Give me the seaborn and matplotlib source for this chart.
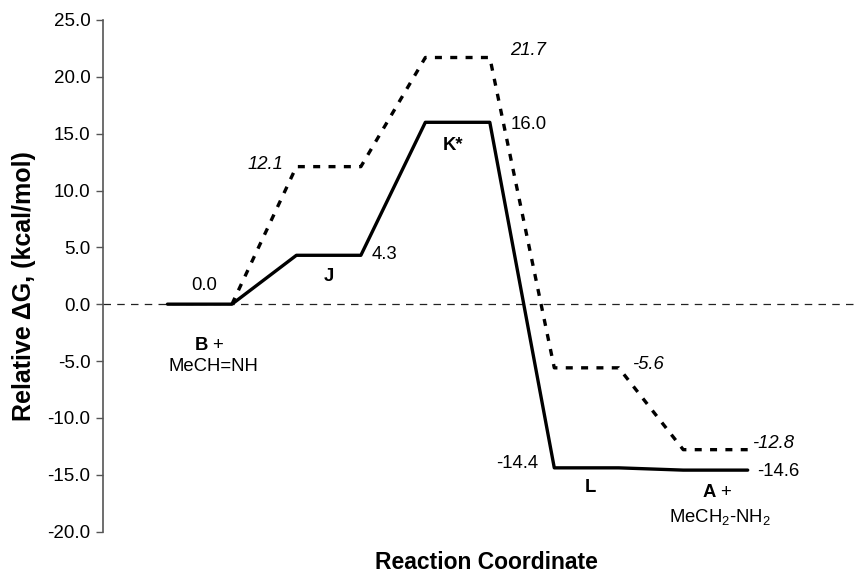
import matplotlib
matplotlib.use("Agg")
import matplotlib.pyplot as plt
import seaborn as sns
import numpy as np
import pandas as pd

# ---- data ----
steps = list(range(10))
solid_dG = [0.0, 0.0, 4.3, 4.3, 16.0, 16.0, -14.4, -14.4, -14.6, -14.6]
dashed_steps = list(range(1, 10))
dashed_dG = [0.0, 12.1, 12.1, 21.7, 21.7, -5.6, -5.6, -12.8, -12.8]
y_ticks = [-20, -15, -10, -5, 0, 5, 10, 15, 20, 25]

sns.set_style("white")
plt.rcParams['font.family'] = ['Liberation Sans', 'DejaVu Sans']
plt.rcParams['mathtext.fontset'] = 'custom'
plt.rcParams['mathtext.rm'] = 'Liberation Sans'
plt.rcParams['mathtext.bf'] = 'Liberation Sans:bold'
plt.rcParams['mathtext.it'] = 'Liberation Sans:italic'
plt.rcParams['text.color'] = 'black'
plt.rcParams['axes.labelcolor'] = 'black'
plt.rcParams['ytick.color'] = 'black'
plt.rcParams['xtick.color'] = 'black'

fig = plt.figure(figsize=(8.56, 5.75), dpi=100)
ax = fig.add_axes([103/856, 1-531.5/575, 1-103/856, (531.5-20)/575])

df_s = pd.DataFrame({"step": steps, "dG": solid_dG})
df_d = pd.DataFrame({"step": dashed_steps, "dG": dashed_dG})

ax.axhline(0, color='#222222', lw=0.9, ls=(0, (6, 5)), zorder=1)
sns.lineplot(data=df_s, x="step", y="dG", ax=ax, color='black', lw=2.4,
             sort=False, zorder=3)
sns.lineplot(data=df_d, x="step", y="dG", ax=ax, color='black', lw=2.4,
             sort=False, linestyle=(0, (2.1, 2.5)), zorder=3)

ax.set_xlim(-1, 10.68)
ax.set_ylim(-20, 25)
ax.set_yticks(y_ticks)
ax.set_yticklabels([f"{v:.1f}" for v in y_ticks])
ax.set_xticks([])
for s in ['top', 'right', 'bottom']:
    ax.spines[s].set_visible(False)
ax.spines['left'].set_color('#555555')
ax.spines['left'].set_linewidth(1.2)
ax.tick_params(axis='y', direction='out', length=5, width=1, color='#555555',
               labelcolor='black', labelsize=13.5, pad=4, left=True)

ax.set_xlabel("Reaction Coordinate", fontsize=16.5, fontweight='bold', va='center')
ax.set_ylabel("Relative \u0394G, (kcal/mol)", fontsize=18, fontweight='bold', va='center')
ax.xaxis.set_label_coords(0.509, -0.06)
ax.yaxis.set_label_coords(-0.105, 0.48)

fs = 13.3
# value labels
ax.text(0.57, 1.6, "0.0", fontsize=fs, ha='center', va='center')
ax.text(1.8, 12.3, "12.1", fontsize=fs, ha='right', va='center', style='italic')
ax.text(3.17, 4.35, "4.3", fontsize=fs, ha='left', va='center')
ax.text(5.32, 15.8, "16.0", fontsize=fs, ha='left', va='center')
ax.text(5.32, 22.3, "21.7", fontsize=fs, ha='left', va='center', style='italic')
ax.text(7.21, -5.3, "-5.6", fontsize=fs, ha='left', va='center', style='italic')
ax.text(9.07, -12.3, "-12.8", fontsize=fs, ha='left', va='center', style='italic')
ax.text(9.15, -14.75, "-14.6", fontsize=fs, ha='left', va='center')
ax.text(5.75, -14.0, "-14.4", fontsize=fs, ha='right', va='center')

# state labels
ax.text(2.5, 2.4, "J", fontsize=fs, ha='center', va='center', fontweight='bold')
ax.text(4.43, 14.0, "K*", fontsize=fs, ha='center', va='center', fontweight='bold')
ax.text(6.56, -16.1, "L", fontsize=fs, ha='center', va='center', fontweight='bold')
ax.text(0.64, -3.6, r"$\mathbf{B}$ +", fontsize=fs, ha='center', va='center')
ax.text(0.71, -5.5, "MeCH=NH", fontsize=fs, ha='center', va='center')
ax.text(8.53, -16.6, r"$\mathbf{A}$ +", fontsize=fs, ha='center', va='center')
ax.text(8.57, -18.7, r"MeCH$_2$-NH$_2$", fontsize=fs, ha='center', va='center')

fig.savefig("out.png", dpi=100)
